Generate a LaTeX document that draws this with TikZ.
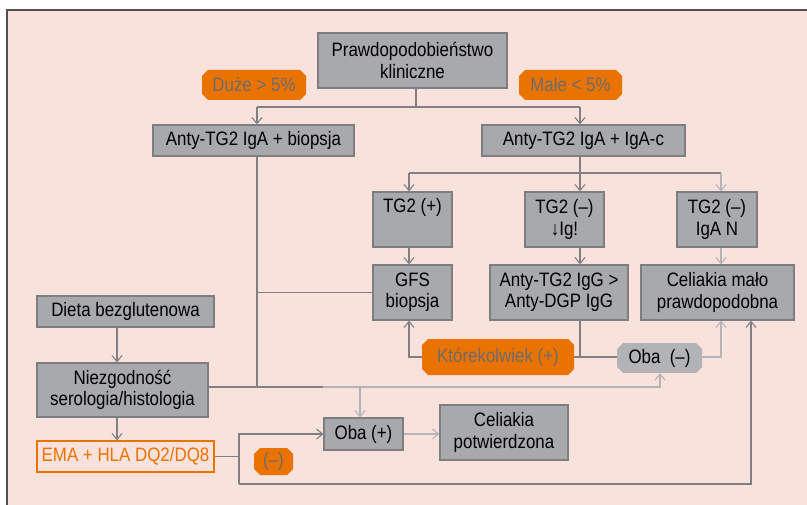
\documentclass[tikz,border=0pt]{standalone}
\usepackage{fontspec}
\setmainfont{Liberation Sans}[FakeStretch=0.87]
\usetikzlibrary{arrows.meta,shapes.misc}
\definecolor{bgpink}{RGB}{249,225,220}
\definecolor{boxgray}{RGB}{168,169,173}
\definecolor{boxedge}{RGB}{125,126,130}
\definecolor{linedark}{RGB}{128,128,130}
\definecolor{linelight}{RGB}{180,180,182}
\definecolor{orng}{RGB}{234,115,0}
\definecolor{labgray}{RGB}{108,108,110}
\definecolor{obagray}{RGB}{178,179,182}
\definecolor{framec}{RGB}{80,80,80}
\begin{document}
\begin{tikzpicture}[x=1bp,y={(0bp,-1bp)},
  font=\fontsize{19.5}{21.5}\selectfont,
  gbox/.style={draw=boxedge,fill=boxgray,line width=1.3bp,inner sep=0pt,align=center,text=black},
  olab/.style={chamfered rectangle,chamfered rectangle xsep=3bp,chamfered rectangle ysep=3bp,fill=orng,text=labgray,inner sep=0pt,align=center},
  glab/.style={chamfered rectangle,chamfered rectangle xsep=3bp,chamfered rectangle ysep=3bp,fill=obagray,text=black,inner sep=0pt,align=center},
  obox/.style={draw=orng,line width=1.3bp,text=orng,inner sep=0pt,align=center},
  ln/.style={draw=linedark,line width=1.3bp},
  lnl/.style={draw=linelight,line width=1.3bp},
  arr/.style={-{Straight Barb[length=6bp,width=10bp,line width=1.1bp]}}
]
\useasboundingbox (0,0) rectangle (807,505);
\fill[white] (0,0) rectangle (807,505);
\fill[bgpink] (7,10) rectangle (807,505);
\draw[framec,line width=1.5bp] (7,505) -- (7,10) -- (807,10);

% nodes
\node[gbox,minimum width=189bp,minimum height=55bp] (prob) at (412.5,60.5) {Prawdopodobieństwo\\kliniczne};
\node[olab,minimum width=104bp,minimum height=30bp] (duze) at (254,85) {Duże {>} 5\%};
\node[olab,minimum width=103bp,minimum height=30bp] (male) at (570.5,85) {Małe {<} 5\%};
\node[gbox,minimum width=201bp,minimum height=31bp] (ab) at (253.5,140.5) {Anty-TG2 IgA + biopsja};
\node[gbox,minimum width=203bp,minimum height=31bp] (ac) at (583.5,140.5) {Anty-TG2 IgA + IgA-c};
\node[gbox,minimum width=79bp,minimum height=55bp] (tgp) at (412.5,219.5) {TG2 (+)\\\strut};
\node[gbox,minimum width=79bp,minimum height=55bp] (tgm) at (564.5,219.5) {TG2 (–)\\↓Ig!};
\node[gbox,minimum width=80bp,minimum height=55bp] (tgn) at (717,219.5) {TG2 (–)\\IgA N};
\node[gbox,minimum width=79bp,minimum height=55bp] (gfs) at (412.5,292.5) {GFS\\biopsja};
\node[gbox,minimum width=138bp,minimum height=55bp] (igg) at (559,292.5) {Anty-TG2 IgG {>}\\Anty-DGP IgG};
\node[gbox,minimum width=153bp,minimum height=55bp] (malo) at (717.5,292.5) {Celiakia mało\\prawdopodobna};
\node[olab,minimum width=152bp,minimum height=36bp] (kto) at (498,357) {Którekolwiek (+)};
\node[glab,minimum width=85bp,minimum height=30bp] (oban) at (659.5,358) {Oba\ \ (–)};
\node[gbox,minimum width=177bp,minimum height=31bp] (dieta) at (125.5,311.5) {Dieta bezglutenowa};
\node[gbox,minimum width=171bp,minimum height=54bp] (niez) at (122.5,390) {Niezgodność\\serologia/histologia};
\node[obox,minimum width=177bp,minimum height=31bp] (ema) at (125.5,456.5) {EMA + HLA DQ2/DQ8};
\node[gbox,minimum width=79bp,minimum height=32bp] (obap) at (363.5,434) {Oba (+)};
\node[gbox,minimum width=128bp,minimum height=55bp] (celp) at (504,432.5) {Celiakia\\potwierdzona};
\node[olab,minimum width=39bp,minimum height=27bp] (minus) at (273.5,461.5) {(–)};

% junction coordinates
\coordinate (t1) at (416,107);
\coordinate (t2) at (257,107);
\coordinate (t3) at (580,107);
\coordinate (u1) at (409,173);
\coordinate (u2) at (580,173);
\coordinate (u3) at (721,173);
\coordinate (v1) at (257,387);
\coordinate (k1) at (409,357);
\coordinate (w1) at (323,387);
\coordinate (w2) at (660,387);
\coordinate (w3) at (360,387);
\coordinate (d1) at (117,0);
\coordinate (e1) at (239,0);
\coordinate (e2) at (239,484);
\coordinate (e3) at (751,484);

% connectors
\draw[ln] (prob.south -| t1) -- (t1);
\draw[ln] (t2) -- (t3);
\draw[ln,arr] (t2) -- (t2 |- ab.north);
\draw[ln,arr] (t3) -- (t3 |- ac.north);
\draw[ln] (ac.south -| u2) -- (u2);
\draw[ln] (u1) -- (u3);
\draw[ln,arr] (u1) -- (u1 |- tgp.north);
\draw[ln,arr] (u2) -- (u2 |- tgm.north);
\draw[lnl,arr] (u3) -- (u3 |- tgn.north);
\draw[ln,arr] (tgp.south -| u1) -- (gfs.north -| u1);
\draw[ln,arr] (tgm.south -| u2) -- (igg.north -| u2);
\draw[lnl,arr] (tgn.south -| u3) -- (malo.north -| u3);
\draw[ln] (ab.south -| v1) -- (v1);
\draw[ln] (v1 |- gfs.west) -- (gfs.west);
\draw[ln,arr] (kto.west) -| (gfs.south -| k1);
\draw[ln] (igg.south -| u2) -- (u2 |- kto.east);
\draw[ln] (kto.east) -- (kto.east -| oban.west);
\draw[lnl,arr] (oban.east |- kto.east) -| (malo.south -| u3);
\draw[ln] (niez.east |- v1) -- (w1);
\draw[lnl,arr] (w1) -- (w2) -- (w2 |- oban.south);
\draw[lnl,arr] (w3) -- (w3 |- obap.north);
\draw[ln,arr] (dieta.south -| d1) -- (niez.north -| d1);
\draw[ln,arr] (niez.south -| d1) -- (ema.north -| d1);
\draw[ln] (ema.east) -- (ema.east -| e1);
\draw[ln,arr] (e2) -- (e2 |- obap.west) -- (obap.west);
\draw[ln,arr] (e2) -- (e3) -- (malo.south -| e3);
\draw[lnl,arr] (obap.east) -- (celp.west |- obap.east);
\end{tikzpicture}
\end{document}
